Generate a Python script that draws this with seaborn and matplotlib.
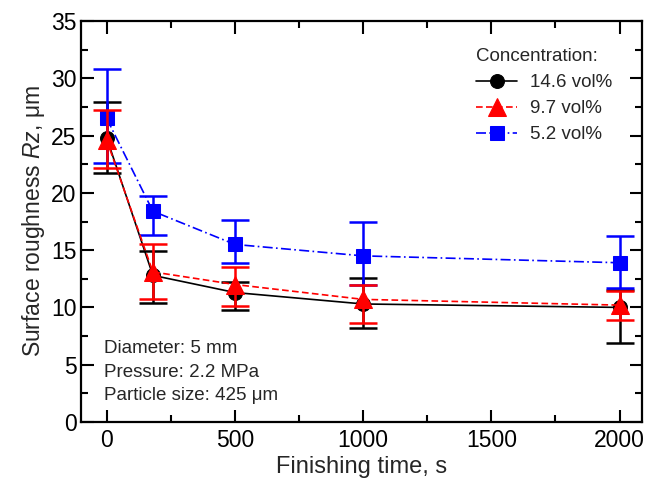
import numpy as np
import pandas as pd
import matplotlib
matplotlib.use("Agg")
import matplotlib.pyplot as plt
import seaborn as sns
from matplotlib.ticker import MultipleLocator

# data
time_s = [0, 180, 500, 1000, 2000]

conc_labels = ["14.6 vol%", "9.7 vol%", "5.2 vol%"]

rz_146 = [24.8, 12.8, 11.3, 10.3, 10.0]
hi_146 = [27.9, 14.9, 12.2, 12.6, 11.5]
lo_146 = [21.7, 10.4, 9.8, 8.2, 6.9]

rz_97 = [24.6, 13.1, 12.0, 10.7, 10.2]
hi_97 = [27.2, 15.5, 13.5, 12.0, 11.4]
lo_97 = [22.2, 10.7, 10.1, 8.6, 8.9]

rz_52 = [26.5, 18.4, 15.5, 14.5, 13.9]
hi_52 = [30.8, 19.7, 17.6, 17.5, 16.2]
lo_52 = [22.6, 16.3, 13.9, 12.0, 11.7]

notes = ["Diameter: 5 mm", "Pressure: 2.2 MPa", "Particle size: 425 \u03bcm"]

sns.set_theme(style="ticks")
plt.rcParams["font.family"] = ["Liberation Sans", "DejaVu Sans"]
plt.rcParams["mathtext.fontset"] = "custom"
plt.rcParams["mathtext.rm"] = "Liberation Sans"
plt.rcParams["mathtext.it"] = "Liberation Sans:italic"

fig = plt.figure(figsize=(6.57, 4.8), dpi=100)
ax = fig.add_axes([0.123, 0.121, 0.854, 0.835])

series = [
    # label, values, high, low, colour, marker, dashes, size, zorder
    (conc_labels[0], rz_146, hi_146, lo_146, "black", "o", "-", 10, 3),
    (conc_labels[2], rz_52, hi_52, lo_52, "#0000ff", "s", (0, (6, 2, 1, 2)), 10, 4),
    (conc_labels[1], rz_97, hi_97, lo_97, "#ff0000", "^", (0, (4, 2)), 13, 5),
]

handles = {}
for label, vals, hi, lo, col, mk, ls, ms, z in series:
    df = pd.DataFrame({"time": time_s, "rz": vals})
    yerr = np.array([np.array(vals) - np.array(lo), np.array(hi) - np.array(vals)])
    ax.errorbar(time_s, vals, yerr=yerr, fmt="none", ecolor=col,
                elinewidth=1.8, capsize=10, capthick=1.8, zorder=z)
    sns.lineplot(data=df, x="time", y="rz", ax=ax, color=col, marker=mk,
                 markersize=ms, markeredgecolor=col, linewidth=1.2,
                 linestyle=ls, zorder=z + 0.5, label=label)
    handles[label] = ax.get_lines()[-1]

ax.set_xlim(-101, 2087)
ax.set_ylim(0, 35)
ax.xaxis.set_major_locator(MultipleLocator(500))
ax.xaxis.set_minor_locator(MultipleLocator(250))
ax.yaxis.set_major_locator(MultipleLocator(5))
ax.yaxis.set_minor_locator(MultipleLocator(2.5))
ax.tick_params(which="both", direction="in", top=True, right=True,
               width=1.5, labelsize=16.5, colors="black")
ax.tick_params(which="major", length=9)
ax.tick_params(which="minor", length=5)
ax.tick_params(axis="x", pad=5)
ax.tick_params(axis="y", pad=3)
for sp in ax.spines.values():
    sp.set_linewidth(1.6)
    sp.set_color("black")

ax.set_xlabel("Finishing time, s", fontsize=17, labelpad=3)
ax.set_ylabel("Surface roughness $Rz$, \u03bcm", fontsize=16.5, labelpad=3)

leg = ax.legend([handles[l] for l in conc_labels], conc_labels,
                title="Concentration:", loc="upper right", frameon=False,
                fontsize=13.5, title_fontsize=13.5, handlelength=2.2,
                handletextpad=0.7, bbox_to_anchor=(0.978, 0.975),
                labelspacing=0.48)
leg._legend_box.align = "left"

for i, txt in enumerate(notes):
    ax.text(0.041, 0.182 - i * 0.0575, txt, transform=ax.transAxes,
            fontsize=13.5, va="center", ha="left")

fig.savefig("out.png", dpi=100)
